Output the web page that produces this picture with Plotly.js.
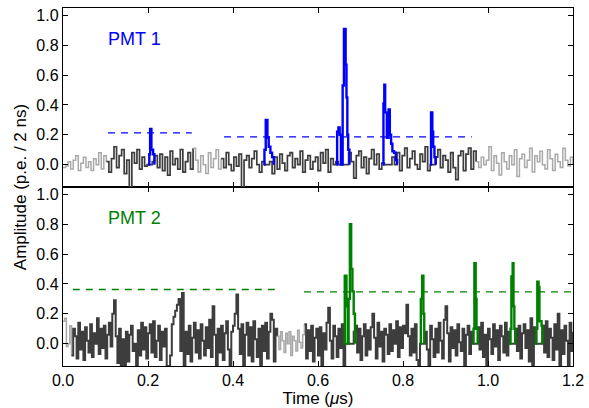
<!DOCTYPE html>
<html>
<head>
<meta charset="utf-8">
<script src="https://cdn.plot.ly/plotly-3.0.1.min.js"></script>
<style>html,body{margin:0;padding:0;background:#fff;}#chart{width:589px;height:408px;}</style>
</head>
<body>
<div id="chart"></div>
<script>
// ---------- data ----------
// PMT 1 baseline trace, sampled every 0.006 µs from 0 to 1.2 µs
const pmt1Step = 0.006;
const pmt1Noise = [
 -0.02,-0.01,0.02,-0.03,0.03,0.06,-0.04,0.01,0.05,-0.02,
 0.02,-0.04,0.04,0.00,0.08,-0.03,0.06,0.02,-0.05,0.04,
 0.12,-0.02,0.06,0.10,-0.06,0.03,-0.15,0.08,0.01,0.10,
 -0.03,0.05,-0.01,0.00,0.00,0.02,0.06,-0.02,0.07,-0.04,
 0.05,-0.07,0.09,0.00,0.04,-0.03,0.10,-0.05,0.02,0.08,
 -0.03,0.11,0.03,-0.05,0.06,0.00,-0.06,0.08,-0.02,0.04,
 0.10,-0.03,0.04,-0.02,0.08,0.00,-0.04,0.05,-0.01,0.07,
 -0.15,0.03,0.06,-0.02,0.04,0.09,0.00,-0.05,0.02,0.00,
 0.00,0.02,-0.06,0.05,-0.03,0.07,0.01,-0.04,0.06,0.08,
 -0.02,0.04,0.00,0.09,-0.05,0.03,0.06,-0.03,0.02,0.05,
 -0.04,0.08,0.01,0.10,-0.05,0.04,0.00,0.02,0.00,0.00,
 0.00,0.00,0.08,0.02,-0.09,0.06,0.09,-0.02,0.05,-0.06,
 0.04,0.10,0.00,0.07,-0.03,0.01,0.00,0.00,0.00,0.05,
 0.00,0.08,-0.04,0.06,0.11,-0.02,0.04,0.09,0.00,-0.03,
 0.07,0.02,0.12,-0.04,0.00,0.00,0.05,0.10,-0.02,0.06,
 0.03,-0.05,0.08,-0.02,-0.10,0.06,0.09,-0.04,0.07,0.11,
 -0.03,0.09,0.02,-0.02,0.05,0.00,0.03,0.12,-0.04,0.06,
 0.01,-0.07,0.08,0.02,-0.03,0.06,0.00,0.10,-0.08,0.04,
 0.07,-0.02,0.03,0.11,-0.05,0.06,0.02,0.09,0.00,-0.03,
 0.10,0.04,-0.04,0.07,0.02,-0.02,0.11,0.03,-0.01,0.05,0.00
];
const pmt1Windows = [[0.102, 0.306], [0.372, 0.972]];
const pmt1Thresholds = [[0.106, 0.303, 0.213], [0.379, 0.962, 0.186]];
const pmt1PulseT = [
 [0.200,0.203,0.205,0.208,0.212,0.215],
 [0.472,0.474,0.477,0.481,0.484,0.488,0.492,0.496],
 [0.643,0.645,0.648,0.651,0.654,0.658,0.661,0.665,0.667,0.669,0.671,0.674],
 [0.752,0.754,0.756,0.758,0.762,0.766,0.769,0.772,0.775,0.779,0.783,0.786],
 [0.864,0.866,0.869,0.871,0.874,0.877]
];
const pmt1PulseY = [
 [0,0.07,0.24,0.10,0.07,0],
 [0,0.10,0.30,0.18,0.12,0.08,0.05,0],
 [0,0.22,0.25,0.20,0,0.53,0.91,0.67,0.45,0.20,0.10,0],
 [0,0.41,0.535,0.35,0.18,0.37,0.20,0.14,0.09,0.08,0.03,0],
 [0,0.35,0.22,0.12,0.05,0]
];

// PMT 2 baseline trace, sampled every 0.004 µs from 0 to 1.2 µs
const pmt2Step = 0.004;
const pmt2Noise = [
 0.15,0.17,-0.02,0.00,0.12,-0.08,0.10,0.05,-0.10,0.14,
 -0.04,0.08,-0.11,0.11,0.02,-0.06,0.13,-0.09,0.07,0.00,
 0.17,-0.07,0.10,-0.03,0.12,-0.10,0.06,0.14,-0.02,0.20,
 0.29,0.05,-0.13,0.10,-0.15,0.03,-0.15,0.08,-0.12,0.06,
 0.12,-0.05,0.00,-0.15,0.09,-0.08,0.14,-0.04,0.11,-0.10,
 0.07,0.13,-0.06,0.15,-0.09,0.02,0.12,-0.11,0.08,-0.02,
 0.10,-0.15,-0.15,-0.08,0.13,0.18,0.22,0.26,0.30,-0.05,
 0.34,-0.15,0.08,-0.07,0.12,-0.12,0.04,0.14,-0.06,0.09,
 -0.10,0.13,0.02,-0.08,0.11,-0.03,0.16,-0.09,0.25,0.06,
 -0.15,0.10,-0.06,0.12,-0.11,0.07,0.15,-0.04,-0.15,0.08,
 0.12,0.20,0.33,0.10,-0.07,0.13,-0.15,0.06,0.14,-0.08,
 0.11,-0.12,0.15,0.03,-0.09,0.10,-0.15,0.12,-0.05,0.14,
 -0.10,0.08,0.20,0.16,-0.12,0.10,0.05,-0.04,0.08,0.02,
 -0.06,0.07,0.00,0.08,-0.08,0.05,0.02,-0.05,0.09,0.01,
 -0.03,0.06,0.13,-0.10,0.09,-0.05,0.12,-0.12,0.04,0.10,
 -0.08,0.11,-0.15,0.07,-0.04,0.14,0.24,0.02,-0.10,0.12,
 0.05,-0.09,0.10,-0.03,0.13,-0.15,0.00,0.00,0.00,0.00,
 0.00,0.08,0.12,-0.06,0.10,-0.11,0.05,0.13,-0.08,0.09,
 -0.04,0.11,0.20,0.04,-0.10,0.14,-0.02,0.08,-0.12,0.10,
 0.06,-0.07,0.13,-0.05,0.09,0.00,0.15,-0.09,0.11,-0.03,
 0.12,0.07,0.26,0.05,-0.08,0.10,-0.06,0.13,-0.11,-0.15,
 0.00,0.00,0.00,0.08,-0.04,-0.15,0.12,0.03,-0.09,0.10,
 -0.06,0.14,0.02,-0.10,0.16,0.25,0.07,-0.12,0.11,-0.03,
 0.09,-0.08,0.13,0.01,-0.05,0.10,-0.15,0.06,0.12,-0.07,
 0.08,0.00,0.00,0.00,0.11,-0.04,0.14,-0.09,0.06,-0.15,
 0.10,0.03,-0.07,0.13,-0.02,0.09,-0.11,0.12,0.05,-0.06,
 0.14,-0.08,0.08,0.00,0.00,0.00,0.10,-0.05,0.12,-0.10,
 0.07,0.13,-0.03,0.09,-0.12,0.17,-0.15,0.11,0.00,0.00,
 0.00,0.00,0.12,-0.06,0.15,-0.09,0.10,0.04,-0.11,0.13,
 -0.04,0.20,-0.15,0.09,-0.07,0.12,0.02,-0.15,0.14,-0.05,0.08
];
const pmt2Windows = [[0.020, 0.504], [0.568, 1.200]];
const pmt2Thresholds = [[0.023, 0.503, 0.363], [0.567, 1.200, 0.347]];
const pmt2PulseT = [
 [0.661,0.663,0.667,0.670,0.672,0.675,0.678,0.681,0.684,0.687],
 [0.840,0.842,0.845,0.848,0.850],
 [0.964,0.966,0.968,0.971,0.973,0.976],
 [1.051,1.053,1.055,1.058,1.060,1.062,1.064],
 [1.112,1.114,1.116,1.119,1.121,1.126,1.128]
];
const pmt2PulseY = [
 [0,0.455,0.25,0,0.30,0.80,0.50,0.35,0.20,0],
 [0,0.30,0.455,0.20,0],
 [0,0.10,0.54,0.30,0.10,0],
 [0,0.10,0.45,0.54,0.25,0.10,0],
 [0,0.10,0.415,0.38,0.15,0.12,0]
];

// ---------- helpers ----------
function timeGrid(n, dt) { const t = []; for (let i = 0; i < n; i++) t.push(+(i * dt).toFixed(4)); return t; }
function slice(t, y, a, b) {
  const xs = [], ys = [];
  for (let i = 0; i < t.length; i++) if (t[i] >= a - 1e-9 && t[i] <= b + 1e-9) { xs.push(t[i]); ys.push(y[i]); }
  return {x: xs, y: ys};
}
const DARK = '#3d3d3d', LIGHT = '#a9a9a9';

function panelTraces(noise, step, windows, thresholds, pulseT, pulseY, color, xa, ya, darkW) {
  const t = timeGrid(noise.length, step);
  const tEnd = t[t.length - 1];
  const out = [];
  let cursor = 0;
  windows.forEach(w => {
    if (w[0] > cursor) { const s = slice(t, noise, cursor, w[0]); out.push({x: s.x, y: s.y, line: {color: LIGHT, width: 1.5, shape: 'hv'}}); }
    const s = slice(t, noise, w[0], w[1]);
    out.push({x: s.x, y: s.y, line: {color: DARK, width: darkW, shape: 'hv'}});
    cursor = w[1];
  });
  if (cursor < tEnd) { const s = slice(t, noise, cursor, tEnd); out.push({x: s.x, y: s.y, line: {color: LIGHT, width: 1.5, shape: 'hv'}}); }
  thresholds.forEach(th => out.push({x: [th[0], th[1]], y: [th[2], th[2]], line: {color: color, width: 1.4, dash: '7px,6px'}}));
  pulseT.forEach((pt, k) => out.push({x: pt, y: pulseY[k], line: {color: color, width: 2.4, shape: 'hv'}}));
  out.forEach(tr => { tr.type = 'scatter'; tr.mode = 'lines'; tr.xaxis = xa; tr.yaxis = ya; tr.hoverinfo = 'skip'; tr.showlegend = false; });
  return out;
}

const data = [].concat(
  panelTraces(pmt1Noise, pmt1Step, pmt1Windows, pmt1Thresholds, pmt1PulseT, pmt1PulseY, '#0000ff', 'x2', 'y2', 1.7),
  panelTraces(pmt2Noise, pmt2Step, pmt2Windows, pmt2Thresholds, pmt2PulseT, pmt2PulseY, '#008000', 'x', 'y', 2.0)
);

const FONT = 'Liberation Sans, Arial, Helvetica, sans-serif';
const axisCommon = {
  ticks: 'inside', ticklen: 5, tickwidth: 1, tickcolor: '#000',
  showline: true, linecolor: '#000', linewidth: 1.2, mirror: 'ticks',
  showgrid: false, zeroline: false, tickformat: '.1f',
  tickfont: {family: FONT, size: 16, color: '#000'}
};
const layout = {
  width: 589, height: 408,
  margin: {l: 63, r: 16, t: 8, b: 42},
  paper_bgcolor: '#fff', plot_bgcolor: '#fff',
  font: {family: FONT, color: '#000'},
  showlegend: false,
  xaxis: Object.assign({}, axisCommon, {domain: [0, 1], range: [0, 1.2], dtick: 0.2, tick0: 0, anchor: 'y',
    title: {text: 'Time (<i>μ</i>s)', font: {family: FONT, size: 17, color: '#000'}, standoff: 5}}),
  xaxis2: Object.assign({}, axisCommon, {domain: [0, 1], range: [0, 1.2], dtick: 0.2, tick0: 0, anchor: 'y2', matches: 'x', showticklabels: false}),
  yaxis: Object.assign({}, axisCommon, {domain: [0, 0.5], range: [-0.15, 1.05], dtick: 0.2, tick0: 0, anchor: 'x'}),
  yaxis2: Object.assign({}, axisCommon, {domain: [0.5, 1], range: [-0.15, 1.05], dtick: 0.2, tick0: 0, anchor: 'x2'}),
  annotations: [
    {text: 'PMT 1', xref: 'x2', yref: 'y2', x: 0.1, y: 0.84, xanchor: 'left', yanchor: 'middle', showarrow: false,
     font: {family: FONT, size: 18, color: '#0000ff'}},
    {text: 'PMT 2', xref: 'x', yref: 'y', x: 0.1, y: 0.845, xanchor: 'left', yanchor: 'middle', showarrow: false,
     font: {family: FONT, size: 18, color: '#008000'}},
    {text: 'Amplitude (p.e. / 2 ns)', xref: 'paper', yref: 'paper', x: -0.084, y: 0.5, xanchor: 'center', yanchor: 'middle',
     textangle: -90, showarrow: false, font: {family: FONT, size: 17, color: '#000'}}
  ]
};

Plotly.newPlot('chart', data, layout, {staticPlot: true, displayModeBar: false});
</script>
</body>
</html>
